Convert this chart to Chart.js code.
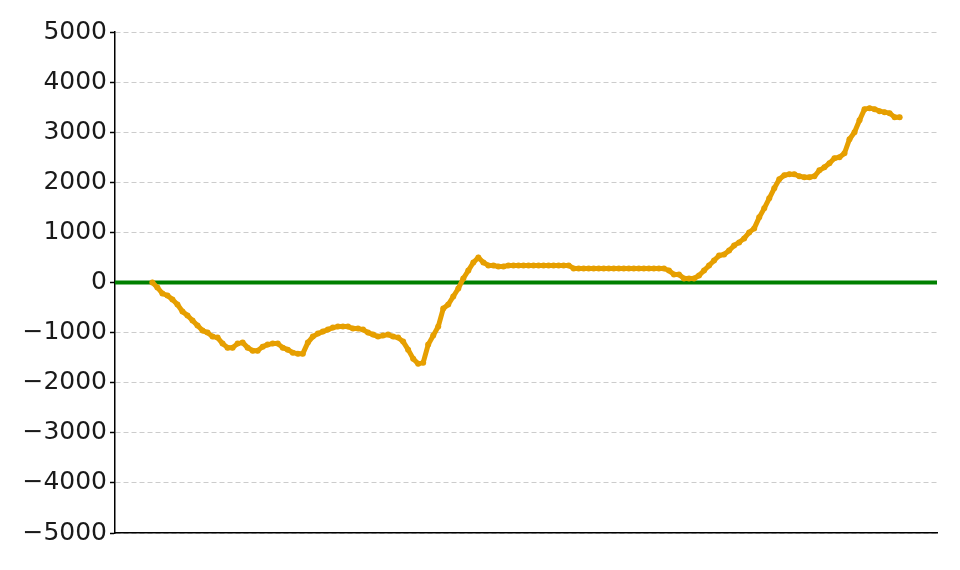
<!DOCTYPE html>
<html>
<head>
<meta charset="utf-8">
<script src="https://cdn.jsdelivr.net/npm/chart.js@4.4.1/dist/chart.umd.min.js"></script>
<style>
  html, body { margin: 0; padding: 0; background: #fff; }
  #wrap { width: 960px; height: 570px; }
</style>
</head>
<body>
<div id="wrap"><canvas id="myChart" width="960" height="570"></canvas></div>
<script>
// Cumulative values, one per step
let balance = [
  0, -100, -220, -260, -340, -440, -580, -660, -760, -860,
  -960, -1000, -1080, -1100, -1220, -1300, -1300, -1220, -1200, -1300,
  -1360, -1360, -1280, -1240, -1220, -1220, -1300, -1340, -1400, -1420,
  -1420, -1200, -1080, -1020, -980, -940, -900, -880, -880, -880,
  -920, -920, -940, -1000, -1040, -1080, -1060, -1040, -1080, -1100,
  -1180, -1340, -1520, -1620, -1600, -1240, -1060, -880, -520, -440,
  -280, -120, 80, 240, 400, 500, 400, 340, 340, 320,
  320, 340, 340, 340, 340, 340, 340, 340, 340, 340,
  340, 340, 340, 340, 280, 280, 280, 280, 280, 280,
  280, 280, 280, 280, 280, 280, 280, 280, 280, 280,
  280, 280, 280, 240, 160, 160, 80, 80, 80, 140,
  240, 340, 440, 540, 560, 640, 740, 800, 880, 1000,
  1080, 1300, 1480, 1680, 1880, 2060, 2140, 2160, 2160, 2120,
  2100, 2100, 2120, 2240, 2300, 2380, 2480, 2500, 2580, 2860,
  3000, 3240, 3460, 3480, 3460, 3420, 3400, 3380, 3300, 3300
];
let steps = balance.map((v, i) => i);
let yTicks = [-5000, -4000, -3000, -2000, -1000, 0, 1000, 2000, 3000, 4000, 5000];
let zeroLine = 0;

let lineColor = "#e69f00";
let zeroColor = "#008000";

// horizontal reference line at zero, across the whole plot
const zeroLinePlugin = {
  id: "zeroLine",
  beforeDatasetsDraw(chart) {
    const { ctx, chartArea, scales } = chart;
    const y = scales.y.getPixelForValue(zeroLine);
    ctx.save();
    ctx.strokeStyle = zeroColor;
    ctx.lineWidth = 4;
    ctx.beginPath();
    ctx.moveTo(chartArea.left, y);
    ctx.lineTo(chartArea.right, y);
    ctx.stroke();
    ctx.restore();
  },
};

const last = steps.length - 1;
const pad = last * 0.05;

const data = {
  datasets: [
    {
      data: steps.map((s, i) => ({ x: s, y: balance[i] })),
      borderColor: lineColor,
      backgroundColor: lineColor,
      borderWidth: 5,
      borderJoinStyle: "round",
      borderCapStyle: "round",
      pointRadius: 3,
      pointBorderWidth: 0,
      pointBackgroundColor: lineColor,
      tension: 0,
    },
  ],
};

const config = {
  type: "line",
  data: data,
  plugins: [zeroLinePlugin],
  options: {
    responsive: false,
    animation: false,
    layout: { padding: { left: 0, right: 23, top: 32, bottom: 0 } },
    plugins: {
      legend: { display: false },
      tooltip: { enabled: false },
    },
    scales: {
      x: {
        type: "linear",
        min: -pad,
        max: last + pad,
        ticks: { display: false },
        grid: { display: false, drawTicks: false },
        border: { display: true, color: "#000", width: 1.5 },
        afterFit(scale) {
          scale.height = 37;
        },
      },
      y: {
        min: -5000,
        max: 5000,
        afterBuildTicks(scale) {
          scale.ticks = yTicks.map((v) => ({ value: v }));
        },
        ticks: {
          color: "#1a1a1a",
          padding: 3,
          font: { family: "DejaVu Sans", size: 25 },
          callback: (v) => String(v).replace("-", "\u2212"),
        },
        grid: {
          color: "#cccccc",
          lineWidth: 1,
          drawTicks: true,
          tickLength: 5,
          tickColor: "#000",
          tickWidth: 1.5,
        },
        border: { display: true, color: "#000", width: 1.5, dash: [5, 3] },
        afterFit(scale) {
          scale.width = 115;
        },
      },
    },
  },
};

let myChart = new Chart(document.querySelector("#myChart"), config);
</script>
</body>
</html>
